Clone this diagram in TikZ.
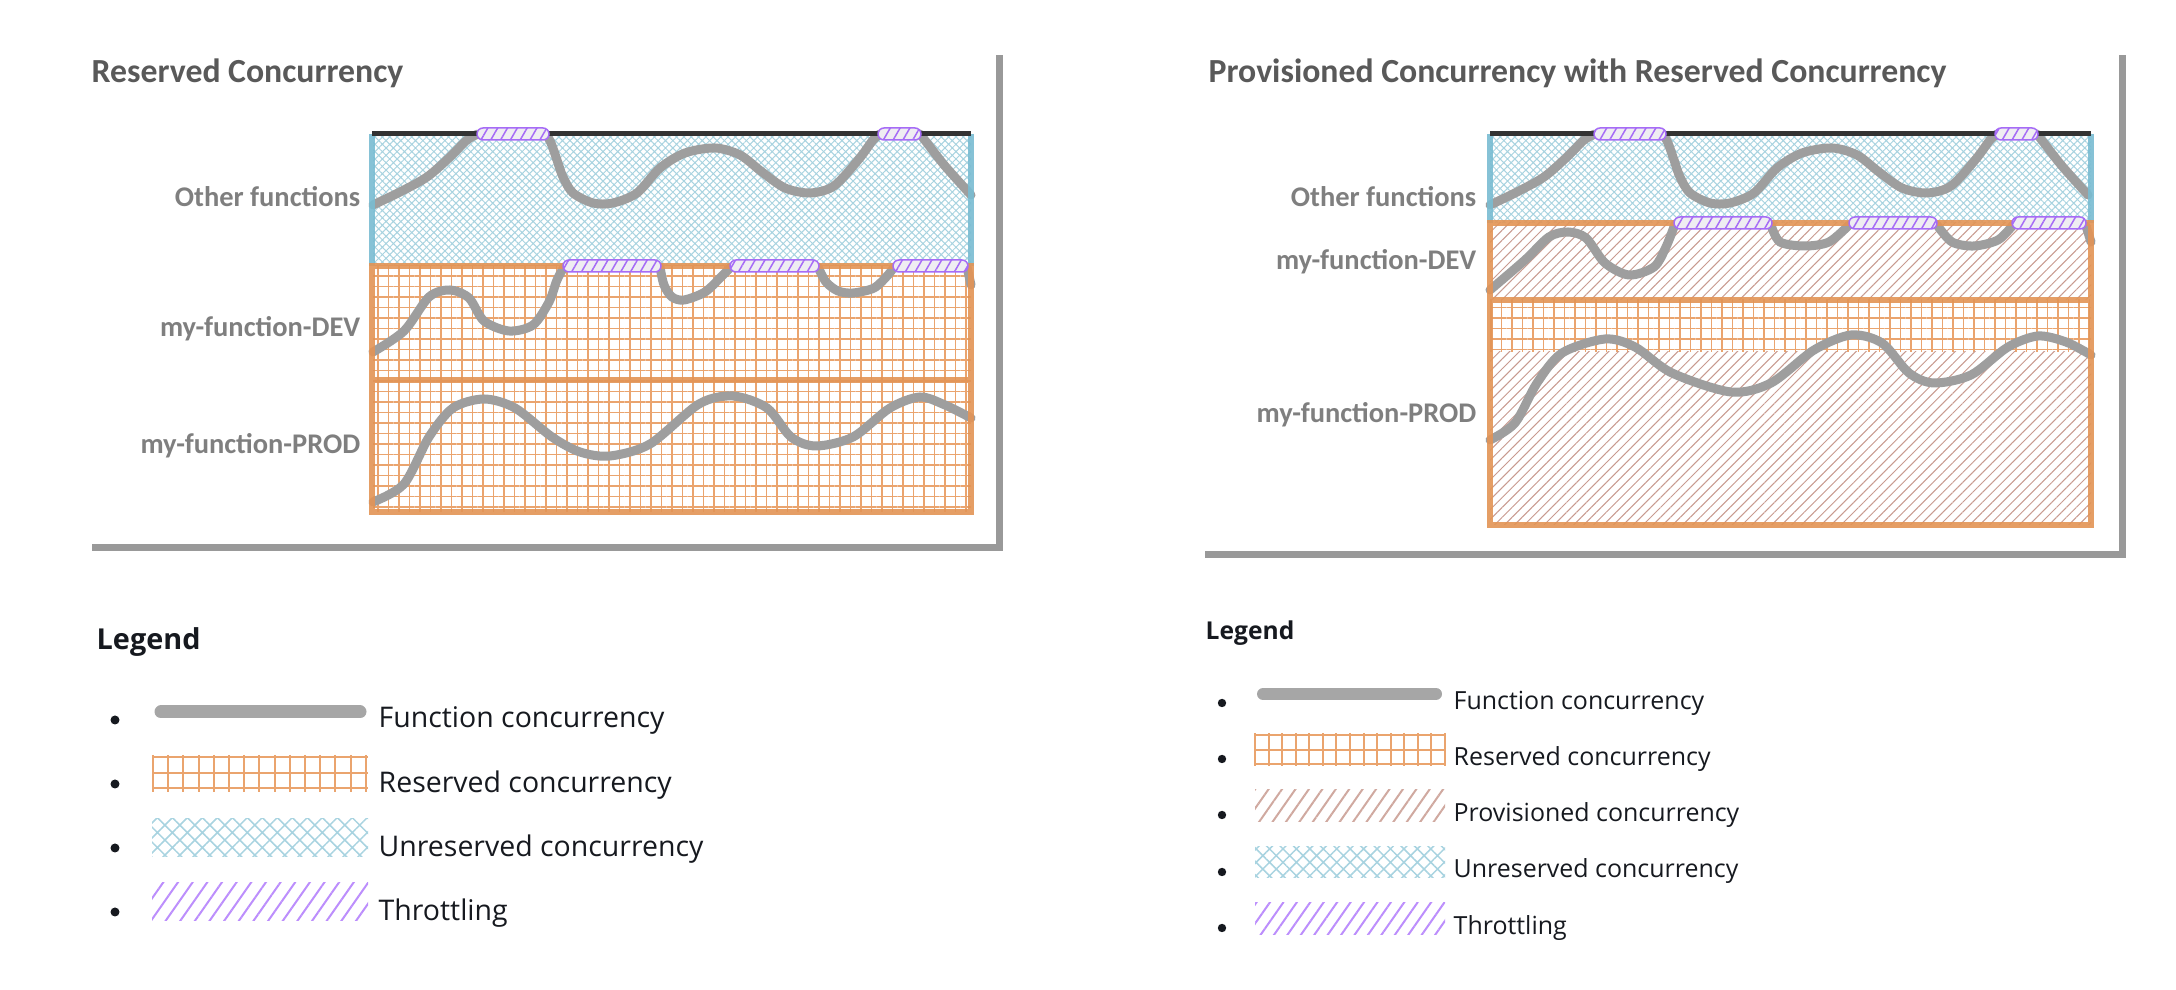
\documentclass[tikz,border=0pt]{standalone}
\usepackage{fontspec}
\newfontfamily\calib{Carlito}
\newfontfamily\ember{Open Sans}
\usetikzlibrary{patterns.meta,shadows}
\definecolor{titlegray}{HTML}{595959}
\definecolor{labelgray}{HTML}{7F7F7F}
\definecolor{curvegray}{HTML}{9E9E9E}
\definecolor{legendink}{HTML}{16191F}
\definecolor{resorange}{HTML}{EAA46E}
\definecolor{edgeorange}{HTML}{E39455}
\definecolor{unresblue}{HTML}{A8D3E0}
\definecolor{edgeblue}{HTML}{79BCD2}
\definecolor{provbrown}{HTML}{C89A8F}
\definecolor{throtpurple}{HTML}{A66CF6}
\definecolor{lightpurple}{HTML}{BC8EFC}
\definecolor{pillfill}{HTML}{EFEDF2}
\definecolor{topline}{HTML}{333333}

\begin{document}
\begin{tikzpicture}[x=0.1mm,y=-0.1mm,
    card/.style={fill=white,drop shadow={shadow xshift=0.7mm,shadow yshift=-0.7mm,fill=black!50,opacity=0.8}},
    reserved/.style={pattern={Hatch[angle=0,distance=1.05mm,line width=0.16mm]},pattern color=resorange},
    unreserved/.style={pattern={Hatch[angle=45,distance=0.52mm,line width=0.1mm]},pattern color=unresblue},
    provisioned/.style={pattern={Lines[angle=45,distance=0.7mm,line width=0.1mm]},pattern color=provbrown},
    pill/.style={draw=throtpurple,line width=0.15mm,rounded corners=0.6mm,preaction={fill=pillfill},
      pattern={Lines[angle=60,distance=0.85mm,line width=0.15mm]},pattern color=throtpurple},
    usage/.style={curvegray,line width=0.9mm,line cap=round},
    title/.style={anchor=base west,inner sep=0pt,text=titlegray,font=\calib\bfseries\fontsize{9.6}{11}\selectfont},
    rowlabel/.style={anchor=base east,inner sep=0pt,text=labelgray,font=\calib\bfseries\fontsize{8.1}{10}\selectfont},
    legitem/.style={anchor=base west,text=legendink,inner sep=0pt},
    dot/.style={legendink}]
  \useasboundingbox (0,0) rectangle (2176,990);

  % cards
  \fill[card] (85,48) rectangle (996,544);
  \fill[card] (1198,48) rectangle (2119,551);
  \node[title] (restitle) at (91,83) {Reserved Concurrency};
  \node[title] (provtitle) at (1208,83) {Provisioned Concurrency with Reserved Concurrency};

  % left chart
  \fill[unreserved] (373,134) rectangle (971,266);
  \fill[reserved] (373,266) rectangle (971,512);
  % right chart
  \fill[unreserved] (1490,134) rectangle (2091,223);
  \fill[provisioned] (1490,223) rectangle (2091,300);
  \fill[reserved] (1490,300) rectangle (2091,352);
  \fill[provisioned] (1490,352) rectangle (2091,525);

  \node[rowlabel] (otherL) at (361,207) {Other functions};
  \node[rowlabel] (devL) at (361,337) {my-function-DEV};
  \node[rowlabel] (prodL) at (361,454) {my-function-PROD};
  \node[rowlabel] (otherR) at (1477,207) {Other functions};
  \node[rowlabel] (devR) at (1477,270) {my-function-DEV};
  \node[rowlabel] (prodR) at (1477,423) {my-function-PROD};

  % other functions, same in both charts
  \foreach \dx in {0,1117} {
    \draw[usage] plot[smooth] coordinates {
      (373+\dx,205) (400+\dx,192) (427+\dx,177) (450+\dx,157) (467+\dx,140) (478+\dx,134)};
    \draw[usage] plot[smooth] coordinates {
      (546+\dx,134) (551+\dx,143) (557+\dx,160) (563+\dx,177) (573+\dx,193) (593+\dx,203)
      (613+\dx,203) (637+\dx,193) (660+\dx,168) (685+\dx,153) (715+\dx,148) (740+\dx,155)
      (762+\dx,172) (785+\dx,188) (810+\dx,193) (834+\dx,186) (859+\dx,159) (873+\dx,140) (880+\dx,134)};
    \draw[usage] plot[smooth] coordinates {
      (920+\dx,134) (927+\dx,143) (945+\dx,166) (971+\dx,195)};
  }

  % left dev / prod
  \draw[usage] plot[smooth] coordinates {
    (373,352) (404,331) (429,297) (450,290) (469,298) (484,321) (509,331) (533,325) (549,302) (557,280) (564,267)};
  \draw[usage] plot[smooth] coordinates {
    (660,267) (664,285) (672,297) (684,300) (705,292) (722,276) (731,267)};
  \draw[usage] plot[smooth] coordinates {
    (818,267) (826,282) (838,291) (853,293) (874,288) (888,275) (894,267)};
  \draw[usage] plot[smooth] coordinates {(967,267) (971,285)};
  \draw[usage] plot[smooth] coordinates {
    (373,502) (404,484) (429,437) (453,408) (484,399) (515,408) (552,437) (580,452) (610,456)
    (650,444) (699,404) (733,396) (767,408) (791,437) (816,446) (853,437) (890,408) (920,397)
    (945,405) (971,418)};

  % right dev / prod
  \draw[usage] plot[smooth] coordinates {
    (1490,290) (1525,260) (1549,237) (1568,232) (1586,238) (1605,263) (1629,275) (1654,267) (1666,247) (1675,224)};
  \draw[usage] plot[smooth] coordinates {
    (1771,225) (1780,242) (1805,246) (1829,242) (1849,225)};
  \draw[usage] plot[smooth] coordinates {
    (1937,225) (1952,242) (1974,246) (1998,240) (2013,225)};
  \draw[usage] plot[smooth] coordinates {(2086,226) (2091,242)};
  \draw[usage] plot[smooth] coordinates {
    (1490,440) (1515,423) (1537,383) (1562,353) (1605,339) (1635,347) (1672,373) (1731,392)
    (1771,383) (1814,350) (1851,335) (1882,343) (1909,373) (1934,383) (1971,375) (2008,347)
    (2038,336) (2066,342) (2091,355)};

  % borders
  \draw[edgeblue,line width=0.65mm,opacity=0.9] (372,134) -- (372,266) (971,134) -- (971,266);
  \draw[edgeblue,line width=0.65mm,opacity=0.9] (1490,134) -- (1490,223) (2091,134) -- (2091,223);
  \draw[edgeorange,line width=0.6mm,opacity=0.9] (372,266) rectangle (971,512) (372,380) -- (971,380);
  \draw[edgeorange,line width=0.6mm,opacity=0.9] (1490,223) rectangle (2091,525) (1490,300) -- (2091,300);
  \draw[topline,line width=0.5mm] (372,134) -- (971,134);
  \draw[topline,line width=0.5mm] (1490,134) -- (2091,134);

  % throttling
  \foreach \dx in {0,1117} {
    \draw[pill] (477+\dx,128) rectangle (549+\dx,140);
    \draw[pill] (878+\dx,128) rectangle (921+\dx,140);
  }
  \draw[pill] (563,260) rectangle (661,272);
  \draw[pill] (730,260) rectangle (819,272);
  \draw[pill] (893,260) rectangle (968,272);
  \draw[pill] (1674,217) rectangle (1772,229);
  \draw[pill] (1849,217) rectangle (1937,229);
  \draw[pill] (2012,217) rectangle (2086,229);

  % legend, left
  \node[legitem,font=\ember\bfseries\fontsize{8.2}{10}\selectfont] (legL) at (96,650) {Legend};
  \foreach \yy in {720,784,848,912} \fill[dot] (115,\yy) circle (0.45mm);
  \draw[line width=1.3mm,line cap=round,color=black!35] (161,712) -- (360,712);
  \foreach \k in {0,...,14} \draw[resorange,line width=0.2mm] ({153+15.2*\k},755) -- ++(0,37);
  \foreach \yy in {757,773,788} \draw[resorange,line width=0.2mm] (152,\yy) -- (368,\yy);
  \fill[pattern={Hatch[angle=45,distance=1.06mm,line width=0.15mm]},pattern color=unresblue] (152,819) rectangle (368,857);
  \fill[pattern={Lines[angle=55,distance=1.2mm,line width=0.2mm]},pattern color=lightpurple] (152,883) rectangle (368,921);
  \begin{scope}[font=\ember\fontsize{8.1}{10}\selectfont]
    \node[legitem] (fcL) at (378,728) {Function concurrency};
    \node[legitem] (rcL) at (378,793) {Reserved concurrency};
    \node[legitem] (ucL) at (378,857) {Unreserved concurrency};
    \node[legitem] (thL) at (378,921) {Throttling};
  \end{scope}

  % legend, right
  \node[legitem,font=\ember\bfseries\fontsize{7}{9}\selectfont] (legR) at (1205,640) {Legend};
  \foreach \yy in {703,759,815,872,928} \fill[dot] (1222,\yy) circle (0.42mm);
  \draw[line width=1.2mm,line cap=round,color=black!35] (1263,694) -- (1436,694);
  \foreach \k in {0,...,14} \draw[resorange,line width=0.2mm] ({1255+13.57*\k},733) -- ++(0,33);
  \foreach \yy in {735,750,764} \draw[resorange,line width=0.2mm] (1255,\yy) -- (1445,\yy);
  \fill[pattern={Lines[angle=55,distance=1.1mm,line width=0.2mm]},pattern color=provbrown!85] (1255,790) rectangle (1445,822);
  \fill[pattern={Hatch[angle=45,distance=0.95mm,line width=0.15mm]},pattern color=unresblue] (1255,847) rectangle (1445,878);
  \fill[pattern={Lines[angle=55,distance=1.1mm,line width=0.2mm]},pattern color=lightpurple] (1255,903) rectangle (1445,935);
  \begin{scope}[font=\ember\fontsize{7.1}{9}\selectfont]
    \node[legitem] (fcR) at (1453,710) {Function concurrency};
    \node[legitem] (rcR) at (1453,766) {Reserved concurrency};
    \node[legitem] (pcR) at (1453,822) {Provisioned concurrency};
    \node[legitem] (ucR) at (1453,878) {Unreserved concurrency};
    \node[legitem] (thR) at (1453,935) {Throttling};
  \end{scope}
\end{tikzpicture}
\end{document}
